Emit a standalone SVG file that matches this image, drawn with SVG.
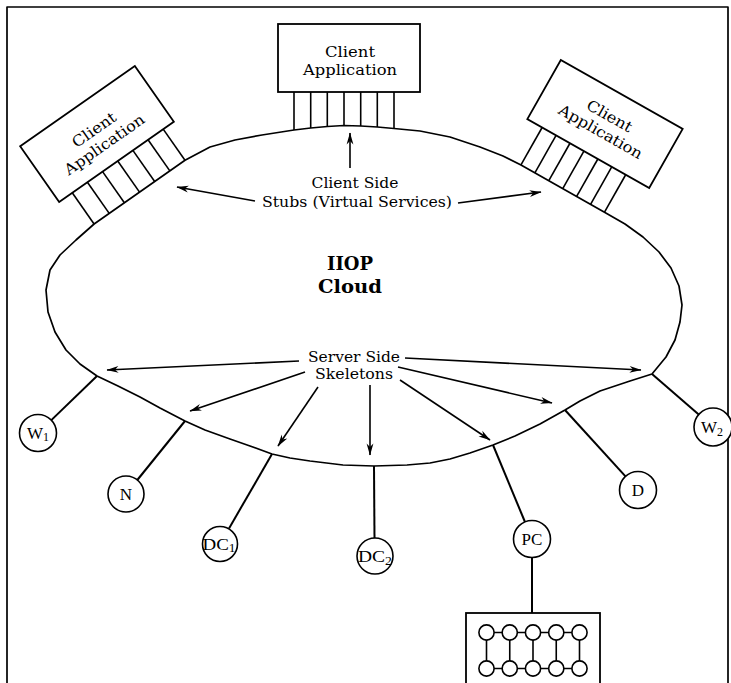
<svg xmlns="http://www.w3.org/2000/svg" width="731" height="683" viewBox="0 0 731 683">
<defs>
<marker id="ah" viewBox="0 0 12 8" refX="11.5" refY="4" markerWidth="13" markerHeight="8" markerUnits="userSpaceOnUse" orient="auto">
<path d="M0,0.6 L12,4 L0,7.4 L3.5,4 Z" fill="#000"/>
</marker>
<style>
.ln{fill:none;stroke:#000;stroke-width:1.7;stroke-linejoin:round;stroke-linecap:round}
.box{fill:#fff;stroke:#000;stroke-width:1.8}
.stub{stroke:#000;stroke-width:1.6}
.arr{fill:none;stroke:#000;stroke-width:1.6;marker-end:url(#ah)}
.link{stroke:#000;stroke-width:2}
.nd{fill:#fff;stroke:#000;stroke-width:1.6}
.bt{font-family:"DejaVu Serif","Liberation Serif",serif;font-size:15px;text-anchor:middle;fill:#000}
.lab{font-family:"DejaVu Serif","Liberation Serif",serif;font-size:15px;text-anchor:middle;fill:#000}
.big{font-family:"DejaVu Serif","Liberation Serif",serif;font-size:19px;font-weight:bold;text-anchor:middle;fill:#000}
.nt{font-family:"Liberation Serif","Times New Roman",serif;font-size:17px;text-anchor:middle;fill:#000}
.sub{font-size:12px}
.sm{fill:#fff;stroke:#000;stroke-width:1.6}
</style>
</defs>

<g id="frame">
<path d="M7,683 L7,7 L728,7 L728,683" class="ln" stroke-width="2"/>
</g>

<g id="cloud">
<path class="ln" d="M94.1,224 L185,160.3 L210,147 L235,140 L262,135 L294,130 L310.7,128 L327.3,126.5 L344,125.5 L360.7,126 L377.3,127 L394,128.5 L420,131 L450,137 L480,147 L503,156 L521,165 L604.5,212.2 L625,224 L643,237 L659,252 L671,268 L679,286 L682,305 L680,322 L675,340 L666,357 L652,374 L630,381 L600,391 L580,401 L565,410 L540,424 L515,436 L493,445 L470,453 L450,459 L430,463 L407,465 L374,466 L343,465 L310,461 L290,458 L272,454 L250,446 L230,439 L205,430 L185,421 L160,408 L140,397 L118,386 L97,376 L80,364 L66,350 L55,332 L48,312 L46,290 L50,270 L60,255 L76,240 Z"/>
<text class="big" x="350" y="270" textLength="46" lengthAdjust="spacingAndGlyphs">IIOP</text>
<text class="big" x="350" y="293" textLength="64" lengthAdjust="spacingAndGlyphs">Cloud</text>
</g>

<g id="client-top">
<rect class="box" x="278" y="24" width="142" height="68"/>
<line class="stub" x1="294" y1="92" x2="294" y2="130"/>
<line class="stub" x1="310.7" y1="92" x2="310.7" y2="128"/>
<line class="stub" x1="327.3" y1="92" x2="327.3" y2="126.5"/>
<line class="stub" x1="344" y1="92" x2="344" y2="125.5"/>
<line class="stub" x1="360.7" y1="92" x2="360.7" y2="126"/>
<line class="stub" x1="377.3" y1="92" x2="377.3" y2="127"/>
<line class="stub" x1="394" y1="92" x2="394" y2="128.5"/>
<text class="bt" x="350" y="57" textLength="50" lengthAdjust="spacingAndGlyphs">Client</text>
<text class="bt" x="350" y="75" textLength="94" lengthAdjust="spacingAndGlyphs">Application</text>
</g>

<g id="client-left" transform="translate(97,134) rotate(-35)">
<rect class="box" x="-70" y="-34" width="140" height="68"/>
<line class="stub" x1="-54" y1="34" x2="-54" y2="72"/>
<line class="stub" x1="-35.5" y1="34" x2="-35.5" y2="72"/>
<line class="stub" x1="-17" y1="34" x2="-17" y2="72"/>
<line class="stub" x1="1.5" y1="34" x2="1.5" y2="72"/>
<line class="stub" x1="20" y1="34" x2="20" y2="72"/>
<line class="stub" x1="38.5" y1="34" x2="38.5" y2="72"/>
<line class="stub" x1="57" y1="34" x2="57" y2="72"/>
<text class="bt" x="0" y="0" textLength="50" lengthAdjust="spacingAndGlyphs">Client</text>
<text class="bt" x="0" y="18" textLength="94" lengthAdjust="spacingAndGlyphs">Application</text>
</g>

<g id="client-right" transform="translate(605,124) rotate(29.5)">
<rect class="box" x="-70" y="-34" width="140" height="68"/>
<line class="stub" x1="-53" y1="34" x2="-53" y2="77"/>
<line class="stub" x1="-37" y1="34" x2="-37" y2="77"/>
<line class="stub" x1="-21" y1="34" x2="-21" y2="77"/>
<line class="stub" x1="-5" y1="34" x2="-5" y2="77"/>
<line class="stub" x1="11" y1="34" x2="11" y2="77"/>
<line class="stub" x1="27" y1="34" x2="27" y2="77"/>
<line class="stub" x1="43" y1="34" x2="43" y2="77"/>
<text class="bt" x="0" y="-4" textLength="50" lengthAdjust="spacingAndGlyphs">Client</text>
<text class="bt" x="0" y="14" textLength="94" lengthAdjust="spacingAndGlyphs">Application</text>
</g>

<g id="labels">
<text class="lab" x="355" y="188" textLength="87" lengthAdjust="spacingAndGlyphs">Client Side</text>
<text class="lab" x="357" y="207" textLength="190" lengthAdjust="spacingAndGlyphs">Stubs (Virtual Services)</text>
<text class="lab" x="354" y="362" textLength="92" lengthAdjust="spacingAndGlyphs">Server Side</text>
<text class="lab" x="354" y="379" textLength="78" lengthAdjust="spacingAndGlyphs">Skeletons</text>
</g>

<g id="connectors">
<line class="arr" x1="350" y1="168" x2="350" y2="133"/>
<line class="arr" x1="255" y1="201" x2="177" y2="187"/>
<line class="arr" x1="458" y1="203" x2="541" y2="192"/>
<line class="arr" x1="299" y1="361" x2="107" y2="370"/>
<line class="arr" x1="405" y1="358" x2="641" y2="370"/>
<line class="arr" x1="305" y1="372" x2="190" y2="411"/>
<line class="arr" x1="318" y1="387" x2="278" y2="446"/>
<line class="arr" x1="370" y1="385" x2="370" y2="455"/>
<line class="arr" x1="400" y1="380" x2="490" y2="440"/>
<line class="arr" x1="398" y1="367" x2="552" y2="403"/>
<line class="link" x1="97" y1="376" x2="51.3" y2="420.1"/>
<line class="link" x1="185" y1="421" x2="137.3" y2="480"/>
<line class="link" x1="272" y1="454" x2="229" y2="528.4"/>
<line class="link" x1="374" y1="466" x2="374.5" y2="538"/>
<line class="link" x1="493" y1="445" x2="525" y2="522"/>
<line class="link" x1="565" y1="410" x2="625.5" y2="476.3"/>
<line class="link" x1="652" y1="374" x2="699" y2="414.8"/>
<line class="link" x1="532" y1="557.5" x2="532" y2="613" stroke-width="1.8"/>
</g>

<g id="node-w1">
<circle class="nd" cx="38" cy="433" r="18.5"/>
<text class="nt" x="38" y="439">W<tspan class="sub" dy="2">1</tspan></text>
</g>
<g id="node-n">
<circle class="nd" cx="126" cy="494" r="18"/>
<text class="nt" x="126" y="500">N</text>
</g>
<g id="node-dc1">
<circle class="nd" cx="220" cy="544" r="17.5"/>
<text class="nt" x="219" y="550" textLength="33" lengthAdjust="spacingAndGlyphs">DC<tspan class="sub" dy="2">1</tspan></text>
</g>
<g id="node-dc2">
<circle class="nd" cx="375" cy="556" r="18"/>
<text class="nt" x="375" y="562" textLength="34" lengthAdjust="spacingAndGlyphs">DC<tspan class="sub" dy="3">2</tspan></text>
</g>
<g id="node-pc">
<circle class="nd" cx="532" cy="539" r="18.5"/>
<text class="nt" x="532" y="545">PC</text>
</g>
<g id="node-d">
<circle class="nd" cx="638" cy="490" r="18.5"/>
<text class="nt" x="638" y="496">D</text>
</g>
<g id="node-w2">
<circle class="nd" cx="713" cy="427" r="19"/>
<text class="nt" x="712" y="433">W<tspan class="sub" dy="3">2</tspan></text>
</g>

<g id="pc-box">
<rect class="box" x="466" y="613" width="134" height="90"/>
<g stroke="#000" stroke-width="1.6">
<line x1="486.5" y1="632.5" x2="579.5" y2="632.5"/>
<line x1="486.5" y1="668.5" x2="579.5" y2="668.5"/>
<line x1="486.5" y1="632.5" x2="486.5" y2="668.5"/>
<line x1="509.75" y1="632.5" x2="509.75" y2="668.5"/>
<line x1="533" y1="632.5" x2="533" y2="668.5"/>
<line x1="556.25" y1="632.5" x2="556.25" y2="668.5"/>
<line x1="579.5" y1="632.5" x2="579.5" y2="668.5"/>
</g>
<circle class="sm" cx="486.5" cy="632.5" r="7.6"/>
<circle class="sm" cx="509.75" cy="632.5" r="7.6"/>
<circle class="sm" cx="533" cy="632.5" r="7.6"/>
<circle class="sm" cx="556.25" cy="632.5" r="7.6"/>
<circle class="sm" cx="579.5" cy="632.5" r="7.6"/>
<circle class="sm" cx="486.5" cy="668.5" r="7.6"/>
<circle class="sm" cx="509.75" cy="668.5" r="7.6"/>
<circle class="sm" cx="533" cy="668.5" r="7.6"/>
<circle class="sm" cx="556.25" cy="668.5" r="7.6"/>
<circle class="sm" cx="579.5" cy="668.5" r="7.6"/>
</g>
</svg>
